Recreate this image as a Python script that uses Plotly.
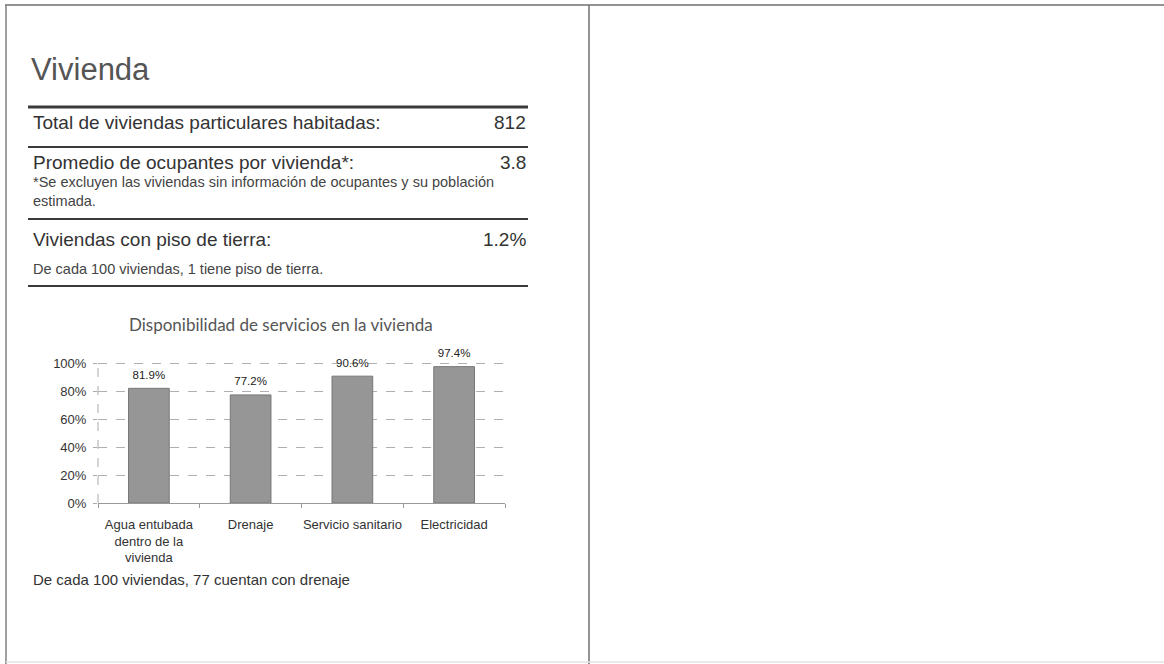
import plotly.graph_objects as go

# ---- data ----
categories = ["Agua entubada<br>dentro de la<br>vivienda", "Drenaje", "Servicio sanitario", "Electricidad"]
values = [81.9, 77.2, 90.6, 97.4]
ytick_vals = [0, 20, 40, 60, 80, 100]
ytick_text = ["0%", "20%", "40%", "60%", "80%", "100%"]
stat_labels = ["Total de viviendas particulares habitadas:",
               "Promedio de ocupantes por vivienda*:",
               "Viviendas con piso de tierra:"]
stat_values = ["812", "3.8", "1.2%"]
section_title = "Vivienda"
chart_title = "Disponibilidad de servicios en la vivienda"
note_occupants = "*Se excluyen las viviendas sin información de ocupantes y su población<br>estimada."
note_floor = "De cada 100 viviendas, 1 tiene piso de tierra."
note_drain = "De cada 100 viviendas, 77 cuentan con drenaje"

W, H = 1164, 664
SANS = "Liberation Sans, Arial, sans-serif"
TXT = "#333333"
Y_MAX = 101


def px(x):
    return x / W


def py(y):
    return 1 - y / H


fig = go.Figure()
fig.add_trace(go.Bar(
    x=categories, y=values,
    marker=dict(color="#969696", line=dict(color="#777777", width=1)),
    width=0.4, showlegend=False, hoverinfo="skip",
))
fig.add_trace(go.Scatter(
    x=categories, y=values, mode="markers+text",
    text=[f"{v:.1f}%" for v in values], textposition="top center",
    marker=dict(size=9, color="rgba(0,0,0,0)"),
    textfont=dict(family=SANS, size=11.5, color="#222222"),
    cliponaxis=False, showlegend=False, hoverinfo="skip",
))

fig.update_layout(
    width=W, height=H,
    margin=dict(l=0, r=0, t=0, b=0, pad=0, autoexpand=False),
    paper_bgcolor="white", plot_bgcolor="white",
    xaxis=dict(domain=[px(98), px(505)], showline=True, linecolor="#999999", linewidth=1,
               tickson="boundaries", ticks="outside", ticklen=4, tickcolor="#999999",
               tickangle=0, automargin=False, ticklabelstandoff=9,
               tickfont=dict(family=SANS, size=13, color=TXT), showgrid=False,
               fixedrange=True),
    yaxis=dict(domain=[py(503), py(503 - 1.4 * Y_MAX)], range=[0, Y_MAX],
               tickvals=ytick_vals, ticktext=ytick_text,
               ticks="outside", ticklen=4, tickcolor="#aaaaaa", automargin=False,
               ticklabelstandoff=4,
               tickfont=dict(family=SANS, size=13, color=TXT),
               showgrid=True, gridcolor="#b0b0b0", griddash="dash", gridwidth=1,
               zeroline=False, showline=False, fixedrange=True),
)

shapes = []
# page frame lines
shapes.append(dict(type="line", xref="paper", yref="paper", x0=px(5), x1=1, y0=py(5), y1=py(5),
                   line=dict(color="#6f6f6f", width=1.5)))
shapes.append(dict(type="line", xref="paper", yref="paper", x0=px(6), x1=px(6), y0=py(5), y1=0,
                   line=dict(color="#808080", width=1.5)))
shapes.append(dict(type="line", xref="paper", yref="paper", x0=px(589), x1=px(589), y0=py(5), y1=0,
                   line=dict(color="#707070", width=1.5)))
shapes.append(dict(type="line", xref="paper", yref="paper", x0=px(6), x1=1, y0=py(662), y1=py(662),
                   line=dict(color="#e2e2e2", width=1.5)))
# section rules
for yy, wd in [(107, 3), (147, 2.2), (219, 2.2), (286, 2.2)]:
    shapes.append(dict(type="line", xref="paper", yref="paper", x0=px(28), x1=px(528), y0=py(yy), y1=py(yy),
                       line=dict(color="#3a3a3a", width=wd)))
# dashed y-axis line
shapes.append(dict(type="line", xref="x domain", yref="y", x0=0, x1=0, y0=0, y1=100,
                   line=dict(color="#aaaaaa", width=1, dash="dash")))
fig.update_layout(shapes=shapes)

ann = []
ann.append(dict(text=section_title, x=px(29), y=py(89), xanchor="left", yanchor="bottom",
                font=dict(family=SANS, size=31, color="#555555")))
row_base = [131, 171, 248]
for lab, val, yb in zip(stat_labels, stat_values, row_base):
    ann.append(dict(text=lab, x=px(31), y=py(yb + 4), xanchor="left", yanchor="bottom",
                    font=dict(family=SANS, size=19, color=TXT)))
    ann.append(dict(text=val, x=px(528), y=py(yb + 4), xanchor="right", yanchor="bottom",
                    font=dict(family=SANS, size=19, color=TXT)))
ann.append(dict(text=note_occupants, x=px(31), y=py(172), xanchor="left", yanchor="top", align="left",
                font=dict(family=SANS, size=14.5, color="#444444")))
ann.append(dict(text=note_floor, x=px(31), y=py(279), xanchor="left", yanchor="bottom",
                font=dict(family=SANS, size=14.5, color="#444444")))
ann.append(dict(text=chart_title, x=px(281), y=py(324), xanchor="center", yanchor="middle",
                font=dict(family="Lato, Open Sans, sans-serif", size=17, color="#555555")))
ann.append(dict(text=note_drain, x=px(31), y=py(579), xanchor="left", yanchor="middle",
                font=dict(family=SANS, size=15, color=TXT)))
for a in ann:
    a.update(xref="paper", yref="paper", showarrow=False)
fig.update_layout(annotations=ann)

post = ("document.documentElement.style.margin='0px';document.documentElement.style.overflow='hidden';"
        "document.body.style.margin='0px';document.body.style.padding='0px';document.body.style.overflow='hidden';"
        "var g=document.querySelector('.plotly-graph-div');"
        "g.style.position='fixed';g.style.left='0px';g.style.top='0px';")
fig.write_html("out.html", config={"displayModeBar": False}, post_script=post)
